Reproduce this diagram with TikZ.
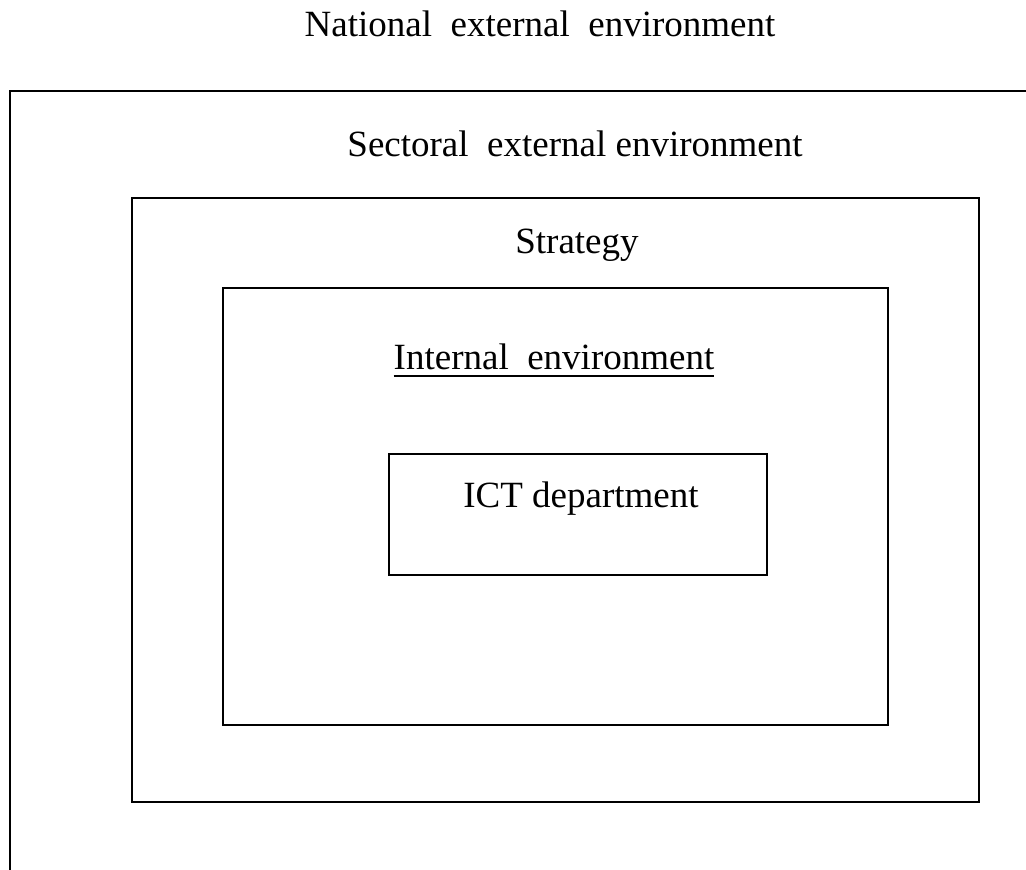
\documentclass[tikz,border=0pt]{standalone}
\usepackage{fontspec}
\setmainfont{Liberation Serif}
\usetikzlibrary{positioning}
\tikzset{
    frame/.style={rectangle, draw=black, line width=1.8pt, fill=none, inner sep=0pt},
    envtext/.style={font=\fontsize{37}{44}\selectfont, inner sep=0pt, anchor=base},
    rule/.style={draw=black, line width=1.8pt}
}

\begin{document}
\begin{tikzpicture}[x=1pt, y=-1pt]
    \useasboundingbox (0,0) rectangle (1026,870);
    % open outer frame (national environment)
    \draw[rule] (10,875) -- (10,91) -- (1030,91);
    \node[frame, anchor=north west, minimum width=847pt, minimum height=604pt] (sectoral) at (131,197) {};
    \node[frame, anchor=north west, minimum width=665pt, minimum height=437pt] (internalbox) at (222,287) {};
    \node[frame, anchor=north west, minimum width=378pt, minimum height=121pt] (ict) at (388,453) {};
    % labels
    \node[envtext] (national) at (540,36) {National~ external~ environment};
    \node[envtext] (sectorlab) at (575,156) {Sectoral~ external environment};
    \node[envtext] (strategy) at (577,253) {Strategy};
    \node[envtext] (internal) at (554,369) {Internal~ environment};
    \node[envtext] (ictlab) at (581,507) {ICT department};
    \draw[rule] ([yshift=-7pt]internal.base west) -- ([yshift=-7pt]internal.base east);
\end{tikzpicture}
\end{document}
